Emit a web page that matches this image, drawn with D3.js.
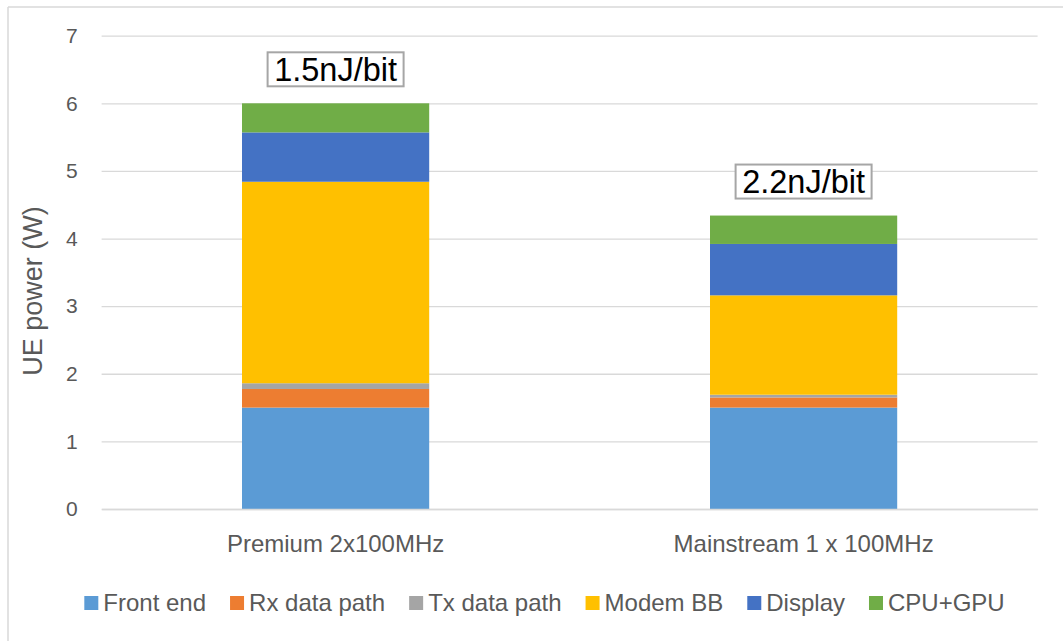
<!DOCTYPE html>
<html>
<head>
<meta charset="utf-8">
<script src="https://cdn.jsdelivr.net/npm/d3@7"></script>
<style>
  html, body { margin: 0; padding: 0; background: #fff; }
  svg { display: block; font-family: "Liberation Sans", Arial, sans-serif; }
</style>
</head>
<body>
<svg id="chart" width="1063" height="641"></svg>
<script>
// ---- data ----
const categories = ["Premium 2x100MHz", "Mainstream 1 x 100MHz"];
const seriesNames = ["Front end", "Rx data path", "Tx data path", "Modem BB", "Display", "CPU+GPU"];
const seriesColors = ["#5B9BD5", "#ED7D31", "#A5A5A5", "#FFC000", "#4472C4", "#70AD47"];
const frontEnd   = [1.50, 1.50];
const rxDataPath = [0.275, 0.15];
const txDataPath = [0.085, 0.04];
const modemBB    = [2.98, 1.47];
const display    = [0.73, 0.76];
const cpuGpu     = [0.43, 0.42];
const efficiencyLabels = ["1.5nJ/bit", "2.2nJ/bit"];
const yTicks = [0, 1, 2, 3, 4, 5, 6, 7];
const yTitle = "UE power (W)";

const seriesValues = [frontEnd, rxDataPath, txDataPath, modemBB, display, cpuGpu];
const table = categories.map((c, i) => {
  const row = { category: c };
  seriesNames.forEach((s, j) => row[s] = seriesValues[j][i]);
  return row;
});

const svg = d3.select("#chart");
const W = 1063, H = 641;
const plot = { left: 101.6, right: 1037.6, top: 35.7, bottom: 509 };

// chart border (left and top visible)
svg.append("line").attr("x1", 8).attr("x2", 8).attr("y1", 7).attr("y2", H)
  .attr("stroke", "#d9d9d9").attr("stroke-width", 1.5);
svg.append("line").attr("x1", 8).attr("x2", W).attr("y1", 7).attr("y2", 7)
  .attr("stroke", "#d9d9d9").attr("stroke-width", 1.5);

const x = d3.scaleBand().domain(categories).range([plot.left, plot.right])
  .paddingInner(0.6).paddingOuter(0.3);
const y = d3.scaleLinear().domain([0, 7]).range([plot.bottom, plot.top]);

// gridlines
const yAxis = d3.axisLeft(y).tickValues(yTicks).tickSize(-(plot.right - plot.left)).tickPadding(24)
  .tickFormat(d3.format("d"));
const gy = svg.append("g").attr("transform", `translate(${plot.left},0)`).call(yAxis);
gy.select(".domain").remove();
gy.selectAll(".tick line").attr("stroke", "#d9d9d9").attr("stroke-width", 1.3);
gy.selectAll(".tick text").attr("fill", "#595959").style("font-size", "21px")
  .attr("font-family", "Liberation Sans, Arial, sans-serif");

// stacked bars
const stack = d3.stack().keys(seriesNames);
const stacked = stack(table);
svg.append("g").selectAll("g").data(stacked).join("g")
  .attr("fill", (d, i) => seriesColors[i])
  .selectAll("rect").data(d => d).join("rect")
  .attr("x", d => x(d.data.category))
  .attr("width", x.bandwidth())
  .attr("y", d => y(d[1]))
  .attr("height", d => y(d[0]) - y(d[1]));

// x axis
const xAxis = d3.axisBottom(x).tickSize(0).tickPadding(26);
const gx = svg.append("g").attr("transform", `translate(0,${plot.bottom})`).call(xAxis);
gx.select(".domain").attr("stroke", "#d9d9d9").attr("stroke-width", 1.3);
gx.selectAll(".tick text").attr("fill", "#595959").style("font-size", "24px")
  .attr("font-family", "Liberation Sans, Arial, sans-serif");

// y title
svg.append("text")
  .attr("transform", `translate(42,291) rotate(-90)`)
  .attr("text-anchor", "middle")
  .attr("fill", "#595959").style("font-size", "27px")
  .text(yTitle);

// efficiency annotations
const totals = table.map(r => d3.sum(seriesNames, s => r[s]));
const ann = svg.append("g").selectAll("g").data(categories).join("g")
  .attr("transform", (c, i) => `translate(${x(c) + x.bandwidth() / 2},${y(totals[i]) - 34})`);
ann.append("rect").attr("x", -68).attr("y", -17).attr("width", 136).attr("height", 34)
  .attr("fill", "#fff").attr("stroke", "#a6a6a6").attr("stroke-width", 2);
ann.append("text").attr("text-anchor", "middle").attr("dy", "0.36em")
  .attr("fill", "#000").style("font-size", "32.5px")
  .text((c, i) => efficiencyLabels[i]);

// legend
const legendY = 603;
const sq = 14, gap1 = 5, gap2 = 24;
const lg = svg.append("g");
const items = lg.selectAll("g").data(seriesNames).join("g");
items.append("rect").attr("width", sq).attr("height", sq).attr("y", -sq / 2)
  .attr("fill", (d, i) => seriesColors[i]);
items.append("text").attr("x", sq + gap1).attr("dy", "0.35em")
  .attr("fill", "#595959").style("font-size", "24px").text(d => d);
let cx = 0;
items.each(function () {
  const w = d3.select(this).select("text").node().getComputedTextLength();
  d3.select(this).attr("data-x", cx);
  cx += sq + gap1 + w + gap2;
});
const totalW = cx - gap2;
const startX = 544.5 - totalW / 2;
items.attr("transform", function () {
  return `translate(${startX + (+d3.select(this).attr("data-x"))},${legendY})`;
});
</script>
</body>
</html>
